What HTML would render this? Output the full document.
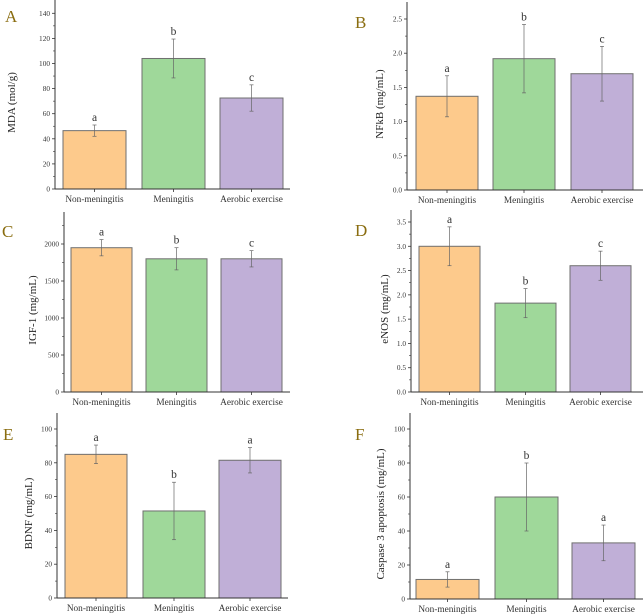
<!DOCTYPE html>
<html><head><meta charset="utf-8"><style>
html,body{margin:0;padding:0;background:#fff;}
svg{display:block;font-family:"Liberation Serif",serif;}
</style></head><body>
<svg id="fig" width="643" height="614" viewBox="0 0 643 614" xmlns="http://www.w3.org/2000/svg"></svg>
<script>
const categories = ["Non-meningitis","Meningitis","Aerobic exercise"];
const mdaValues = [46.5,104,72.5];
const mdaErrors = [4.5,15.5,10.5];
const mdaLetters = ["a","b","c"];
const nfkbValues = [1.37,1.92,1.70];
const nfkbErrors = [0.3,0.5,0.4];
const nfkbLetters = ["a","b","c"];
const igfValues = [1950,1800,1800];
const igfErrors = [110,150,110];
const igfLetters = ["a","b","c"];
const enosValues = [3.0,1.83,2.6];
const enosErrors = [0.4,0.3,0.3];
const enosLetters = ["a","b","c"];
const bdnfValues = [85,51.5,81.5];
const bdnfErrors = [5.5,17,7.5];
const bdnfLetters = ["a","b","a"];
const caspValues = [11.5,60,33];
const caspErrors = [4.5,20,10.5];
const caspLetters = ["a","b","a"];
const mdaTicks = [0,20,40,60,80,100,120,140];
const nfkbTicks = [0,0.5,1.0,1.5,2.0,2.5];
const igfTicks = [0,500,1000,1500,2000];
const enosTicks = [0,0.5,1.0,1.5,2.0,2.5,3.0,3.5];
const bdnfTicks = [0,20,40,60,80,100];
const caspTicks = [0,20,40,60,80,100];

const NS="http://www.w3.org/2000/svg";
const svg=document.getElementById('fig');
const colors=["#fdca8c","#9fd89a","#c0afd7"];
function mk(tag,attrs,parent){const e=document.createElementNS(NS,tag);for(const k in attrs)e.setAttribute(k,attrs[k]);(parent||svg).appendChild(e);return e;}

const panels=[
 {id:"a",label:"A",title:"MDA (mol/g)",vals:mdaValues,errs:mdaErrors,lets:mdaLetters,ticks:mdaTicks,dec:0,ax:55,zero:189,refV:140,refY:13.3,top:0,end:290,bx:[63,142,220],bw:63,lx:5,ly:22,tx:15},
 {id:"b",label:"B",title:"NFkB (mg/mL)",vals:nfkbValues,errs:nfkbErrors,lets:nfkbLetters,ticks:nfkbTicks,dec:1,ax:407,zero:190,refV:2.5,refY:19,top:2,end:643,bx:[416,493,571],bw:62,lx:355,ly:28,tx:383},
 {id:"c",label:"C",title:"IGF-1 (mg/mL)",vals:igfValues,errs:igfErrors,lets:igfLetters,ticks:igfTicks,dec:0,ax:64,zero:392,refV:2000,refY:244,top:212,end:290,bx:[71,146,221],bw:61,lx:2,ly:237,tx:36},
 {id:"d",label:"D",title:"eNOS (mg/mL)",vals:enosValues,errs:enosErrors,lets:enosLetters,ticks:enosTicks,dec:1,ax:411,zero:392,refV:3.5,refY:222,top:210,end:643,bx:[419,495,570],bw:61,lx:355,ly:236,tx:388},
 {id:"e",label:"E",title:"BDNF (mg/mL)",vals:bdnfValues,errs:bdnfErrors,lets:bdnfLetters,ticks:bdnfTicks,dec:0,ax:57,zero:598,refV:100,refY:429,top:413,end:288,bx:[65,143,219],bw:62,lx:3,ly:440,tx:32},
 {id:"f",label:"F",title:"Caspase 3 apoptosis (mg/mL)",vals:caspValues,errs:caspErrors,lets:caspLetters,ticks:caspTicks,dec:0,ax:410,zero:599,refV:100,refY:429,top:413,end:643,bx:[416,495,572],bw:63,lx:355,ly:440,tx:384}
];

panels.forEach(p=>{
  const g=mk('g',{});
  
  
  const y=v=>p.zero-(p.zero-p.refY)*v/p.refV;
  const lab=mk('text',{x:p.lx,y:p.ly,'font-size':17,fill:'#8a6d10'},g);lab.textContent=p.label;
  
  
  p.vals.forEach((v,i)=>{
    const r=mk('rect',{x:p.bx[i],y:y(v),width:p.bw,height:p.zero-y(v),fill:colors[i],stroke:'#6f6f6f','stroke-width':1},g);
    
    
    const cx=p.bx[i]+p.bw/2, e=p.errs[i];
    const eb=mk('g',{stroke:'#666','stroke-width':0.7},g);
    
    
    mk('line',{x1:cx,x2:cx,y1:y(v+e),y2:y(v-e)},eb);
    mk('line',{x1:cx-2,x2:cx+2,y1:y(v+e),y2:y(v+e)},eb);
    mk('line',{x1:cx-2,x2:cx+2,y1:y(v-e),y2:y(v-e)},eb);
    const t=mk('text',{x:cx,y:y(v+e)-4,'font-size':11.5,'text-anchor':'middle',fill:'#333'},g);t.textContent=p.lets[i];
    
    
    const xl=mk('text',{x:cx,y:p.zero+13,'font-size':9.3,'text-anchor':'middle',fill:'#333'},g);xl.textContent=categories[i];
    
    
    mk('line',{x1:cx,x2:cx,y1:p.zero,y2:p.zero+3,stroke:'#333','stroke-width':0.8},g);
  });
  const ya=mk('line',{x1:p.ax,x2:p.ax,y1:p.top,y2:p.zero,stroke:'#333','stroke-width':1},g);
  
  
  const xa=mk('line',{x1:p.ax,x2:p.end,y1:p.zero,y2:p.zero,stroke:'#333','stroke-width':1},g);
  
  
  const step=p.ticks[1]-p.ticks[0];
  p.ticks.forEach((t,k)=>{
    const ty=y(t);
    mk('line',{x1:p.ax-3,x2:p.ax,y1:ty,y2:ty,stroke:'#333','stroke-width':0.8},g);
    const mt=y(t+step/2);
    if(mt>p.top+1) mk('line',{x1:p.ax-2,x2:p.ax,y1:mt,y2:mt,stroke:'#333','stroke-width':0.6},g);
    const tl=mk('text',{x:p.ax-5,y:ty+2.5,'font-size':7.3,'text-anchor':'end',fill:'#333'},g);
    tl.textContent=t.toFixed(p.dec);
    
    
  });
  const my=(p.zero+p.top)/2+8;
  const yt=mk('text',{x:p.tx,y:my,'font-size':11,'text-anchor':'middle',fill:'#222',transform:'rotate(-90 '+p.tx+' '+my+')'},g);
  yt.textContent=p.title;
  
  
});
</script>
</body></html>
